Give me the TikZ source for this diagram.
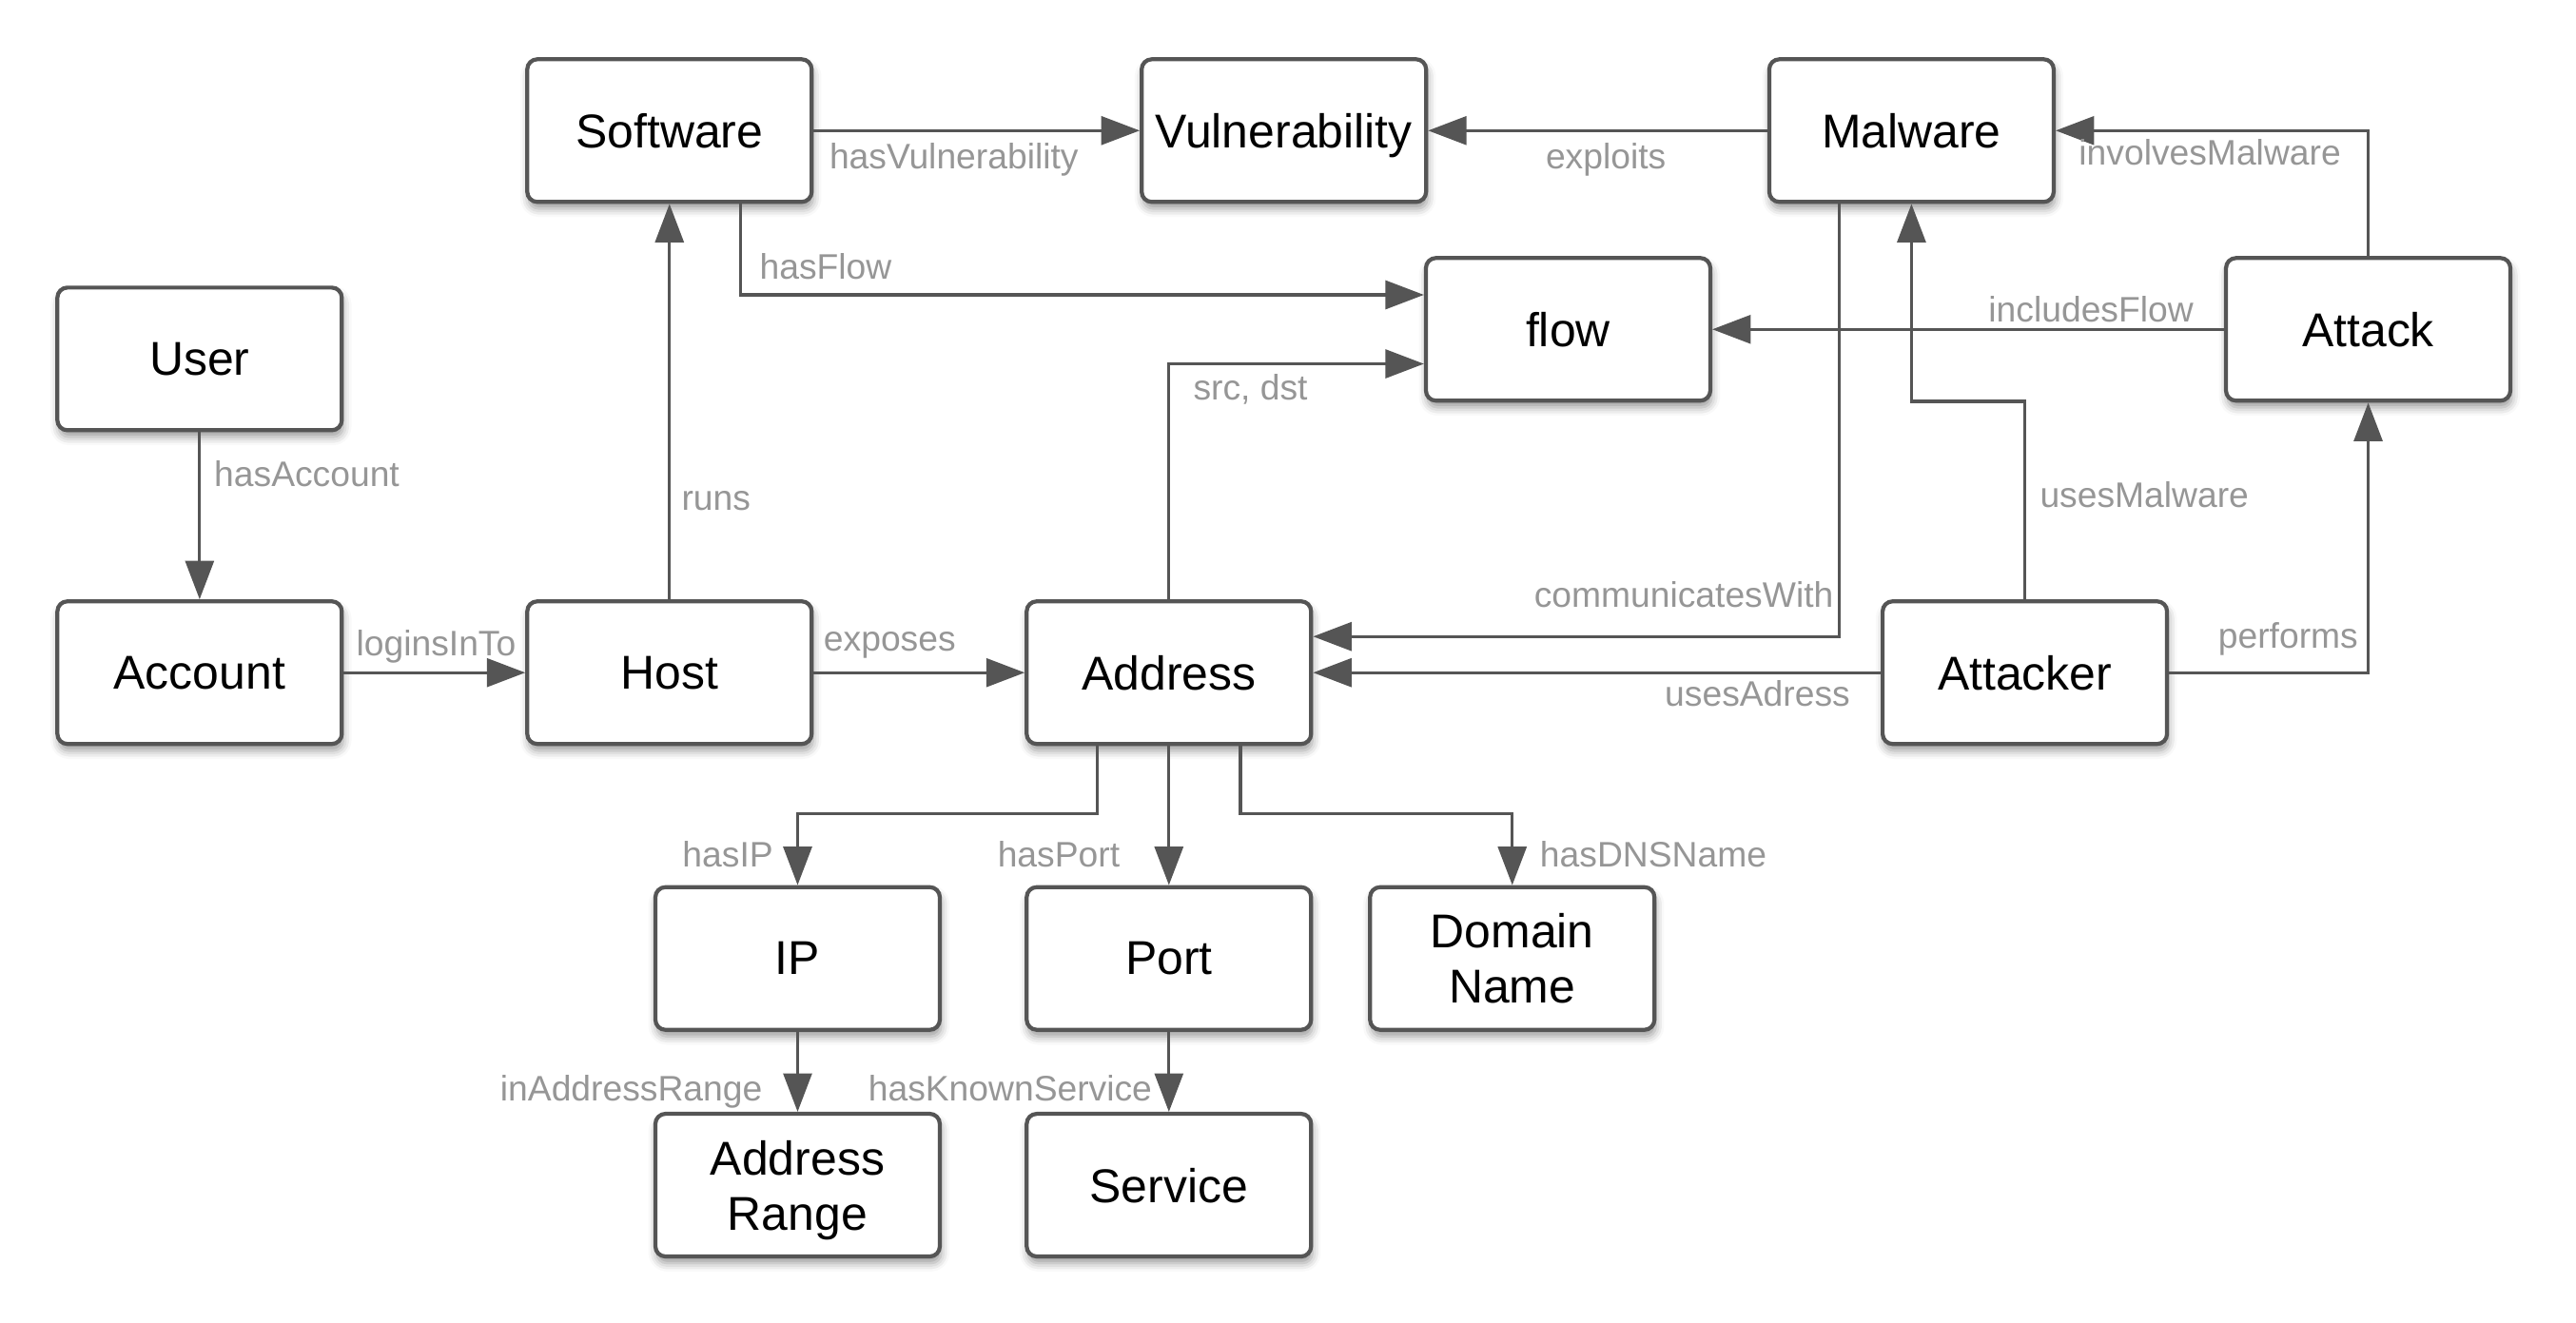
\documentclass[tikz,border=0pt]{standalone}
\usepackage{fontspec}
\setmainfont{Liberation Sans}
\usetikzlibrary{arrows.meta,calc,shadows.blur}
\definecolor{edgegray}{RGB}{85,85,85}
\definecolor{labelgray}{RGB}{150,150,150}

\begin{document}
\begin{tikzpicture}[x=0.01727cm,y=-0.01727cm,
  entity/.style={draw=edgegray, line width=1.2pt, fill=white, rounded corners=3pt,
    minimum width=2.99cm, minimum height=1.5cm, align=center, inner sep=0pt,
    text depth=0pt,
    font=\fontsize{14.2}{16.5}\selectfont,
    blur shadow={shadow xshift=0.4pt, shadow yshift=-2pt, shadow blur radius=2.5pt, shadow opacity=40}},
  rel/.style={draw=edgegray, line width=0.9pt, -{Triangle[length=11.5pt,width=8.5pt]}},
  lbl/.style={text=labelgray, font=\fontsize{10.6}{12}\selectfont, inner sep=0pt}
]
\useasboundingbox (0,0) rectangle (1568,805);

% entities
\node[entity] (sw)       at (407.5,79.5)  {Software};
\node[entity] (vul)      at (781.5,79.5)  {Vulnerability};
\node[entity] (mal)      at (1163.5,79.5) {Malware};
\node[entity] (user)     at (121.5,218.5) {User};
\node[entity] (flow)     at (954.5,200.5) {flow};
\node[entity] (attack)   at (1441.5,200.5) {Attack};
\node[entity] (account)  at (121.5,409.5) {Account};
\node[entity] (host)     at (407.5,409.5) {Host};
\node[entity] (addr)     at (711.5,409.5) {Address};
\node[entity] (attacker) at (1232.5,409.5) {Attacker};
\node[entity] (ip)       at (485.5,583.5) {IP};
\node[entity] (port)     at (711.5,583.5) {Port};
\node[entity] (dns)      at (920.5,583.5) {Domain\\Name};
\node[entity] (range)    at (485.5,721.5) {Address\\Range};
\node[entity] (svc)      at (711.5,721.5) {Service};

% relations
\draw[rel] (user) -- (account);
\draw[rel] (account) -- (host);
\draw[rel] (host) -- (sw);
\draw[rel] (host) -- (addr);
\draw[rel] (sw) -- (vul);
\draw[rel] ($(sw.south)+(43.5,0)$) |- ($(flow.west)+(0,-21)$);
\draw[rel] (addr.north) |- ($(flow.west)+(0,21)$);
\draw[rel] (mal) -- (vul);
\draw[rel] (attack) -- (flow);
\draw[rel] (attack.north) |- (mal.east);
\draw[rel] (attacker.north) -- ++(0,-120.5) -| (mal.south);
\draw[rel] ($(mal.south)+(-44,0)$) |- ($(addr.east)+(0,-22)$);
\draw[rel] (attacker) -- (addr);
\draw[rel] (attacker.east) -| (attack.south);
\draw[rel] ($(addr.south)+(-43.5,0)$) -- ++(0,41) -| (ip.north);
\draw[rel] (addr) -- (port);
\draw[rel] ($(addr.south)+(43.5,0)$) -- ++(0,41) -| (dns.north);
\draw[rel] (ip) -- (range);
\draw[rel] (port) -- (svc);

% relation names
\node[lbl, anchor=base west] (t-hasAccount) at (130,296) {hasAccount};
\node[lbl, anchor=base west] (t-loginsInTo) at (216.5,399) {loginsInTo};
\node[lbl, anchor=base west] (t-runs) at (414.5,310.5) {runs};
\node[lbl, anchor=base west] (t-exposes) at (501,396.5) {exposes};
\node[lbl, anchor=base west] (t-hasVuln) at (504.5,102.8) {hasVulnerability};
\node[lbl, anchor=base west] (t-hasFlow) at (462,169.8) {hasFlow};
\node[lbl, anchor=base west] (t-exploits) at (940.5,102.8) {exploits};
\node[lbl, anchor=base west] (t-involves) at (1265,100.4) {involvesMalware};
\node[lbl, anchor=base west] (t-includes) at (1210,195.9) {includesFlow};
\node[lbl, anchor=base west] (t-srcdst) at (726,243.2) {src, dst};
\node[lbl, anchor=base west] (t-usesMalware) at (1241.3,308.7) {usesMalware};
\node[lbl, anchor=base east] (t-communicates) at (1116.4,369.5) {communicatesWith};
\node[lbl, anchor=base east] (t-usesAdress) at (1126.5,429.7) {usesAdress};
\node[lbl, anchor=base west] (t-performs) at (1349.8,394.7) {performs};
\node[lbl, anchor=base east] (t-hasIP) at (471,527.5) {hasIP};
\node[lbl, anchor=base east] (t-hasPort) at (682,527.5) {hasPort};
\node[lbl, anchor=base west] (t-hasDNS) at (937,527.5) {hasDNSName};
\node[lbl, anchor=base east] (t-inRange) at (464.4,670) {inAddressRange};
\node[lbl, anchor=base east] (t-known) at (701.6,670) {hasKnownService};
\end{tikzpicture}
\end{document}
